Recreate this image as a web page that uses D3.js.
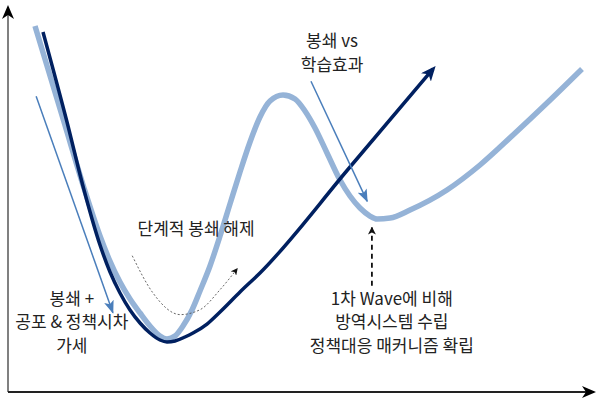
<!DOCTYPE html>
<html><head><meta charset="utf-8">
<script src="https://cdn.jsdelivr.net/npm/d3@7"></script>
<style>
body{margin:0;background:#fff}
text{font-family:"Noto Sans CJK KR","Noto Sans",sans-serif;font-size:17px;fill:#222}
</style>
</head><body>
<svg id="c" width="596" height="401"></svg>
<script>
// Conceptual curves (time 0-100, level 0-100)
const waveTime  = [4.61,9.56,12.97,15.70,17.24,19.11,20.82,22.53,24.23,25.94,27.13,28.50,29.86,31.40,32.76,34.47,36.18,37.88,39.59,41.30,43.00,44.71,46.93,48.98,50.68,52.39,54.44,56.66,58.36,60.07,61.77,62.97,65.19,68.60,74.91,80.55,86.18,91.98,97.95];
const waveLevel = [95.06,70.13,52.99,40.52,34.55,28.57,24.16,20.52,17.14,14.55,13.77,14.55,17.14,21.30,26.23,32.73,40.52,48.83,57.14,64.94,71.43,75.58,77.14,76.10,72.99,68.57,62.08,55.06,50.91,47.79,45.71,44.94,45.19,47.27,52.47,58.96,66.75,75.06,83.90];
const recoveryTime  = [5.97,10.07,12.97,15.70,17.41,19.11,20.82,22.53,24.23,25.94,27.13,28.50,30.20,31.57,33.96,36.18,39.59,43.00,58.36,72.53];
const recoveryLevel = [93.51,70.13,52.47,38.18,31.17,25.71,21.30,17.92,15.32,13.51,12.99,13.25,14.29,15.32,17.66,20.78,25.97,30.91,58.44,83.90];
// annotation arrows [x1,y1,x2,y2]
const lockdownArrow = [4.8,76.8,17.9,20.6];
const learningArrow = [51.7,80.7,61.3,49.5];
const systemArrow   = [62.1,27.6,62.1,42.7];
const reopenTime  = [21.2,24.7,29.4,32.8,36.2,39.1];
const reopenLevel = [35.4,25.8,20.1,21.4,26.6,32.0];
// labels
const labelText = [["봉쇄 vs","학습효과"],["단계적 봉쇄 해제"],["봉쇄 +","공포 & 정책시차","가세"],["1차 Wave에 비해","방역시스템 수립","정책대응 매커니즘 확립"]];
const labelX = [55.3,32.1,10.9,65.5];
const labelY = [89.5,40.9,22.7,22.7];

const svg = d3.select("#c");
const x = d3.scaleLinear().domain([0,100]).range([8,594]);
const y = d3.scaleLinear().domain([0,100]).range([392,7]);

const defs = svg.append("defs");
function marker(id, path, w, h, refX, color){
  defs.append("marker").attr("id",id).attr("markerUnits","userSpaceOnUse")
    .attr("viewBox",`0 0 ${w} ${h}`).attr("markerWidth",w).attr("markerHeight",h)
    .attr("refX",refX).attr("refY",h/2).attr("orient","auto")
    .append("path").attr("d",path).attr("fill",color);
}
marker("axisHead","M0,0 L14,6 L0,12 L4,6 Z",14,12,12,"#000");
marker("navyHead","M0,0 L15,6.5 L0,13 L4,6.5 Z",15,13,11,"#002060");
marker("blueHead","M0,0 L13,5 L0,10 L3,5 Z",13,10,12,"#4a7ebb");
marker("blackHead","M0,0 L8,4 L0,8 L2,4 Z",8,8,7,"#111");
marker("dotHead","M0,0 L7,3.5 L0,7 L2,3.5 Z",7,7,6,"#111");

// axes
svg.append("line").attr("x1",x(0)).attr("y1",y(0)).attr("x2",x(0)).attr("y2",y(100))
  .attr("stroke","#808080").attr("stroke-width",2).attr("marker-end","url(#axisHead)");
svg.append("line").attr("x1",x(0)).attr("y1",y(0)).attr("x2",x(100)).attr("y2",y(0))
  .attr("stroke","#222").attr("stroke-width",2).attr("marker-end","url(#axisHead)");

const line = d3.line().x(d=>x(d[0])).y(d=>y(d[1])).curve(d3.curveMonotoneX);

svg.append("path").datum(d3.zip(waveTime,waveLevel)).attr("d",line)
  .attr("fill","none").attr("stroke","#95b3d7").attr("stroke-width",5.5);
svg.append("path").datum(d3.zip(recoveryTime,recoveryLevel)).attr("d",line)
  .attr("fill","none").attr("stroke","#002060").attr("stroke-width",3.5)
  .attr("marker-end","url(#navyHead)");

function arrow(a, color, w, head, dash){
  svg.append("line").attr("x1",x(a[0])).attr("y1",y(a[1])).attr("x2",x(a[2])).attr("y2",y(a[3]))
    .attr("stroke",color).attr("stroke-width",w).attr("stroke-dasharray",dash||null)
    .attr("marker-end",`url(#${head})`);
}
arrow(lockdownArrow,"#4a7ebb",1.5,"blueHead");
arrow(learningArrow,"#4a7ebb",1.5,"blueHead");
arrow(systemArrow,"#111",1.8,"blackHead","5,4");

svg.append("path").datum(d3.zip(reopenTime,reopenLevel)).attr("d",line)
  .attr("fill","none").attr("stroke","#555").attr("stroke-width",0.9)
  .attr("stroke-dasharray","2,2").attr("marker-end","url(#dotHead)");

labelText.forEach((lines,i)=>{
  const t = svg.append("text").attr("text-anchor","middle")
    .attr("x",x(labelX[i])).attr("y",y(labelY[i]));
  lines.forEach((s,j)=>t.append("tspan").attr("x",x(labelX[i])).attr("dy",j?23.5:0).text(s));
});
</script>
</body></html>
